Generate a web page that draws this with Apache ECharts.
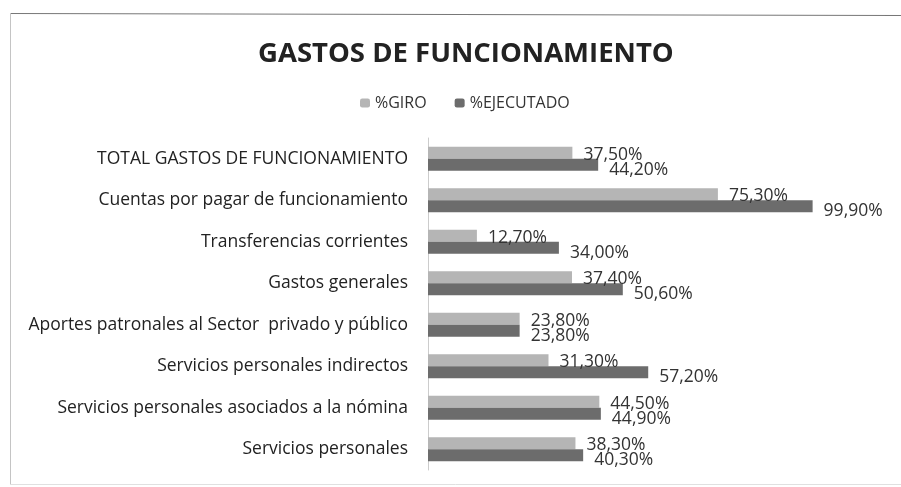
<!DOCTYPE html>
<html>
<head>
<meta charset="utf-8">
<script src="https://cdn.jsdelivr.net/npm/echarts@6/dist/echarts.min.js"></script>
<style>html,body{margin:0;padding:0;background:#fff}#c{width:901px;height:487px}</style>
</head>
<body>
<div id="c"></div>
<script>
var categories = [
  "Servicios personales",
  "Servicios personales asociados a la nómina",
  "Servicios personales indirectos",
  "Aportes patronales al Sector  privado y público",
  "Gastos generales",
  "Transferencias corrientes",
  "Cuentas por pagar de funcionamiento",
  "TOTAL GASTOS DE FUNCIONAMIENTO"
];
var giro = [38.3, 44.5, 31.3, 23.8, 37.4, 12.7, 75.3, 37.5];
var ejecutado = [40.3, 44.9, 57.2, 23.8, 50.6, 34.0, 99.9, 44.2];
var seriesNames = ["%GIRO", "%EJECUTADO"];

function fmt(p) { return p.value.toFixed(2).replace('.', ',') + '%'; }

var chart = echarts.init(document.getElementById('c'), null, {renderer: 'canvas'});
chart.setOption({
  animation: false,
  backgroundColor: '#fff',
  textStyle: {fontFamily: 'Open Sans'},
  graphic: [
    {type: 'line', shape: {x1: 10, y1: 13.5, x2: 901, y2: 15.5}, style: {stroke: '#777', lineWidth: 1.2}},
    {type: 'line', shape: {x1: 10.5, y1: 13, x2: 10.5, y2: 484}, style: {stroke: '#c4c4c4', lineWidth: 1}},
    {type: 'line', shape: {x1: 10, y1: 484.5, x2: 901, y2: 484.5}, style: {stroke: '#e0e0e0', lineWidth: 1}}
  ],
  title: {
    text: 'GASTOS DE FUNCIONAMIENTO',
    left: 253, top: 35,
    textStyle: {fontFamily: 'Open Sans', fontWeight: 'bold', fontSize: 27.5, color: '#222'}
  },
  legend: {
    data: seriesNames, top: 90, left: 355, itemWidth: 10, itemHeight: 9, itemGap: 28,
    textStyle: {fontSize: 16, color: '#333'}
  },
  grid: {left: 428, right: 88, top: 138, bottom: 17},
  xAxis: {type: 'value', min: 0, max: 100, show: false},
  yAxis: {
    type: 'category', data: categories,
    axisLine: {show: true, lineStyle: {color: '#ccc'}},
    axisTick: {show: false},
    axisLabel: {fontSize: 17.5, color: '#222', margin: 20}
  },
  series: [
    {name: seriesNames[0], type: 'bar', data: giro, barGap: '0%', barCategoryGap: '42%',
     itemStyle: {color: '#b5b5b5'},
     label: {show: true, position: 'right', distance: 11, offset: [0, 2], formatter: fmt, fontSize: 17.5, color: '#333'}},
    {name: seriesNames[1], type: 'bar', data: ejecutado,
     itemStyle: {color: '#6c6c6c'},
     label: {show: true, position: 'right', distance: 11, offset: [0, 5], formatter: fmt, fontSize: 17.5, color: '#333'}}
  ]
});
</script>
</body>
</html>
